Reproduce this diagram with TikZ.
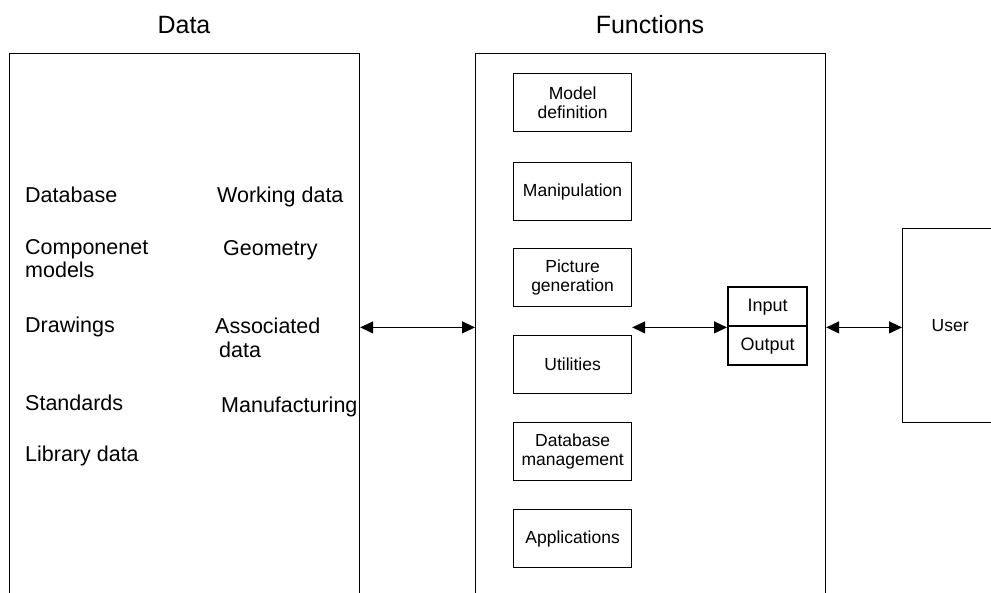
\documentclass[tikz,border=0pt]{standalone}
\usepackage{fontspec}
\setmainfont{Liberation Sans}
\usetikzlibrary{arrows.meta}
\begin{document}
\begin{tikzpicture}[x=1pt,y=-1pt,
  frame/.style={draw, line width=1.2pt, inner sep=0pt, anchor=north west},
  fbox/.style={draw, line width=1.2pt, inner sep=0pt, anchor=north west, minimum width=118pt, minimum height=58pt, align=center, font=\fontsize{17.5}{19.5}\selectfont},
  iobox/.style={draw, line width=2.4pt, inner sep=0pt, anchor=north west, minimum width=79pt, minimum height=39pt, font=\fontsize{18}{20}\selectfont},
  title/.style={font=\fontsize{25}{28}\selectfont, inner sep=0pt, anchor=base},
  item/.style={font=\fontsize{21.5}{22.5}\selectfont, inner sep=0pt, anchor=base west, align=left},
  link/.style={line width=1.2pt, {Triangle[length=13pt,width=12pt]}-{Triangle[length=13pt,width=12pt]}}
]
\useasboundingbox (0,0) rectangle (991,592);
\clip (0,0) rectangle (991,592);
\fill[white] (0,0) rectangle (991,592);

% main frames
\node[frame, minimum width=350pt, minimum height=560pt] (data) at (9,53) {};
\node[frame, minimum width=350pt, minimum height=560pt] (func) at (475,53) {};
\node[frame, minimum width=95pt, minimum height=194pt, font=\fontsize{17.5}{19.5}\selectfont] (user) at (902,228) {User};

% titles
\node[title] (datatitle) at (184,33) {Data};
\node[title] (functitle) at (650,33) {Functions};

% data items (base anchor = last line)
\node[item] (db) at (25,202) {Database};
\node[item] (comp) at (25,277) {Componenet\\models};
\node[item] (draw) at (25,332) {Drawings};
\node[item] (std) at (25,410) {Standards};
\node[item] (lib) at (25,461) {Library data};
\node[item] (work) at (217,202) {Working data};
\node[item] (geom) at (223,255) {Geometry};
\node[item, font=\fontsize{21.5}{24}\selectfont] (assoc) at (215,357) {Associated\\\hspace*{4pt}data};
\node[item] (manu) at (221,412) {Manufacturing};

% function boxes
\node[fbox] (model) at (513,73) {Model\\definition};
\node[fbox] (manip) at (513,162) {Manipulation};
\node[fbox] (pict) at (513,248) {Picture\\generation};
\node[fbox] (util) at (513,335) {Utilities};
\node[fbox] (dbm) at (513,422) {Database\\management};
\node[fbox] (appl) at (513,509) {Applications};

% input / output
\node[iobox] (input) at (727,286) {Input};
\node[iobox] (output) at (727,325) {Output};

% connectors
\draw[link] (data.east |- input.south west) -- (func.west |- input.south west);
\draw[link] (util.east |- input.south west) -- (input.south west);
\draw[link] (func.east |- input.south west) -- (user.west |- input.south west);
\end{tikzpicture}
\end{document}
